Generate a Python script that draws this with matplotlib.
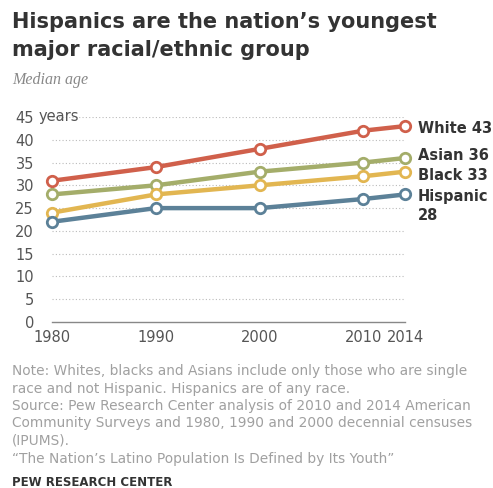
import matplotlib.pyplot as plt

years = [1980, 1990, 2000, 2010, 2014]
white = [31, 34, 38, 42, 43]
asian = [28, 30, 33, 35, 36]
black = [24, 28, 30, 32, 33]
hispanic = [22, 25, 25, 27, 28]

series = [
    ("White", white, "#d0604b"),
    ("Asian", asian, "#a4ad6a"),
    ("Black", black, "#e2b651"),
    ("Hispanic", hispanic, "#5c8198"),
]
yticks = [0, 5, 10, 15, 20, 25, 30, 35, 40, 45]
xticks = [1980, 1990, 2000, 2010, 2014]

W, H = 493, 488
fig = plt.figure(figsize=(W / 100, H / 100), dpi=100)
ax = fig.add_axes([52 / W, 1 - 322 / H, (405 - 52) / W, (322 - 117) / H])

for name, vals, col in series:
    ax.plot(years, vals, color=col, lw=3.2, marker="o", ms=7.5,
            mfc="white", mec=col, mew=2, clip_on=False, zorder=3)

ax.set_xlim(1980, 2014)
ax.set_ylim(0, 45)
ax.set_yticks(yticks)
ax.set_yticklabels([str(t) for t in yticks])
ax.set_xticks(xticks)
ax.tick_params(length=0, labelsize=10.5, labelcolor="#555555", pad=6)
ax.tick_params(axis="y", pad=13)
ax.grid(axis="y", linestyle=(0, (1, 2)), color="#bbbbbb", lw=0.8)
for s in ["top", "right", "left"]:
    ax.spines[s].set_visible(False)
ax.spines["bottom"].set_color("#888888")
ax.spines["bottom"].set_linewidth(1)
ax.yaxis.get_gridlines()[0].set_visible(False)

fig.text(39 / W, 1 - 117 / H, "years", fontsize=10.5, color="#555555",
         va="center", ha="left")

# right-side labels
lab = dict(fontsize=10.5, fontweight="bold", color="#333333", va="center", ha="left")
fig.text(418 / W, 1 - 128 / H, "White 43", **lab)
fig.text(418 / W, 1 - 156 / H, "Asian 36", **lab)
fig.text(418 / W, 1 - 175 / H, "Black 33", **lab)
fig.text(418 / W, 1 - 196 / H, "Hispanic", **lab)
fig.text(418 / W, 1 - 215 / H, "28", **lab)

fig.text(12 / W, 1 - 22 / H, "Hispanics are the nation\u2019s youngest",
         fontsize=15, fontweight="bold", color="#333333", va="center")
fig.text(12 / W, 1 - 50 / H, "major racial/ethnic group",
         fontsize=15, fontweight="bold", color="#333333", va="center")
fig.text(12 / W, 1 - 80 / H, "Median age", fontsize=11.5, style="italic",
         family="Liberation Serif", color="#888888", va="center")

notes = [
    "Note: Whites, blacks and Asians include only those who are single",
    "race and not Hispanic. Hispanics are of any race.",
    "Source: Pew Research Center analysis of 2010 and 2014 American",
    "Community Surveys and 1980, 1990 and 2000 decennial censuses",
    "(IPUMS).",
    "\u201cThe Nation\u2019s Latino Population Is Defined by Its Youth\u201d",
]
for i, line in enumerate(notes):
    fig.text(12 / W, 1 - (371 + i * 17.5) / H, line, fontsize=9.9,
             color="#a0a0a0", va="center")
fig.text(12 / W, 1 - 483 / H, "PEW RESEARCH CENTER", fontsize=8.5,
         fontweight="bold", color="#333333", va="center")

fig.savefig("out.png", dpi=100)
